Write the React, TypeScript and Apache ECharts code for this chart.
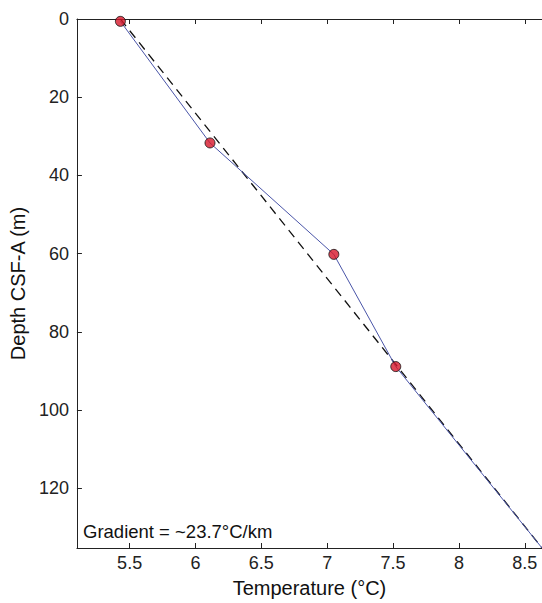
import React, { useEffect, useRef } from "react";
import * as echarts from "echarts";

const temperature = [5.43, 6.11, 7.05, 7.52];
const depth = [0.6, 31.7, 60.2, 88.9];
const fitTemperature = [5.43, 8.63];
const fitDepth = [0, 135.3];
const xTicks = [5.5, 6, 6.5, 7, 7.5, 8, 8.5];
const yTicks = [0, 20, 40, 60, 80, 100, 120];
const gradientLabel = "Gradient = ~23.7°C/km";

const FONT = "'Liberation Sans', Arial, Helvetica, sans-serif";

export default function App() {
  const ref = useRef<HTMLDivElement>(null);
  useEffect(() => {
    if (!ref.current) return;
    const chart = echarts.init(ref.current, undefined, { renderer: "svg" });
    const measured = temperature.map((t, i) => [t, depth[i]]);
    const fit = fitTemperature.map((t, i) => [t, fitDepth[i]]);
    const blueLine = [...measured, fit[fit.length - 1]];
    chart.setOption({
      animation: false,
      backgroundColor: "#ffffff",
      grid: { left: 71, top: 19, right: 0, bottom: 52 },
      xAxis: [
        {
          type: "value",
          min: 5.1,
          max: 8.63,
          interval: 0.5,
          name: "Temperature (°C)",
          nameLocation: "middle",
          nameGap: 30,
          nameTextStyle: { fontFamily: FONT, fontSize: 20, color: "#111" },
          axisLine: { show: true, onZero: false, lineStyle: { color: "#222", width: 1 } },
          axisTick: { show: true, inside: true, length: 5, lineStyle: { color: "#222" }, customValues: xTicks },
          axisLabel: {
            margin: 6,
            fontFamily: FONT,
            fontSize: 18,
            color: "#222",
            customValues: xTicks,
            formatter: (v: number) => String(v),
          },
          splitLine: { show: false },
        },
        {
          type: "value",
          position: "top",
          min: 5.1,
          max: 8.63,
          axisLine: { show: true, onZero: false, lineStyle: { color: "#222", width: 1 } },
          axisTick: { show: true, inside: true, length: 5, lineStyle: { color: "#222" }, customValues: xTicks },
          axisLabel: { show: false },
          splitLine: { show: false },
        },
      ],
      yAxis: [
        {
          type: "value",
          inverse: true,
          min: 0,
          max: 135.3,
          interval: 20,
          name: "Depth CSF-A (m)",
          nameLocation: "middle",
          nameGap: 38,
          nameTextStyle: { fontFamily: FONT, fontSize: 20, color: "#111" },
          axisLine: { show: true, onZero: false, lineStyle: { color: "#222", width: 1 } },
          axisTick: { show: true, inside: true, length: 5, lineStyle: { color: "#222" }, customValues: yTicks },
          axisLabel: {
            margin: 8,
            fontFamily: FONT,
            fontSize: 18,
            color: "#222",
            customValues: yTicks,
          },
          splitLine: { show: false },
        },
      ],
      graphic: [
        {
          type: "text",
          left: 83,
          top: 522,
          style: { text: gradientLabel, fontFamily: FONT, fontSize: 18.5, fill: "#111" },
        },
      ],
      series: [
        {
          type: "line",
          data: fit,
          symbol: "none",
          lineStyle: { color: "#111", width: 1.3, type: [9, 6] },
          z: 2,
        },
        {
          type: "line",
          data: blueLine,
          symbol: "none",
          lineStyle: { color: "#4a55a8", width: 1 },
          z: 3,
        },
        {
          type: "scatter",
          data: measured,
          symbol: "circle",
          symbolSize: 10,
          itemStyle: { color: "#d7182a", borderColor: "#111", borderWidth: 1 },
          z: 4,
        },
      ],
    });
    return () => chart.dispose();
  }, []);
  return (
    <div
      ref={ref}
      style={{ position: "absolute", left: 0, top: 0, width: 542, height: 603, background: "#fff" }}
    />
  );
}
